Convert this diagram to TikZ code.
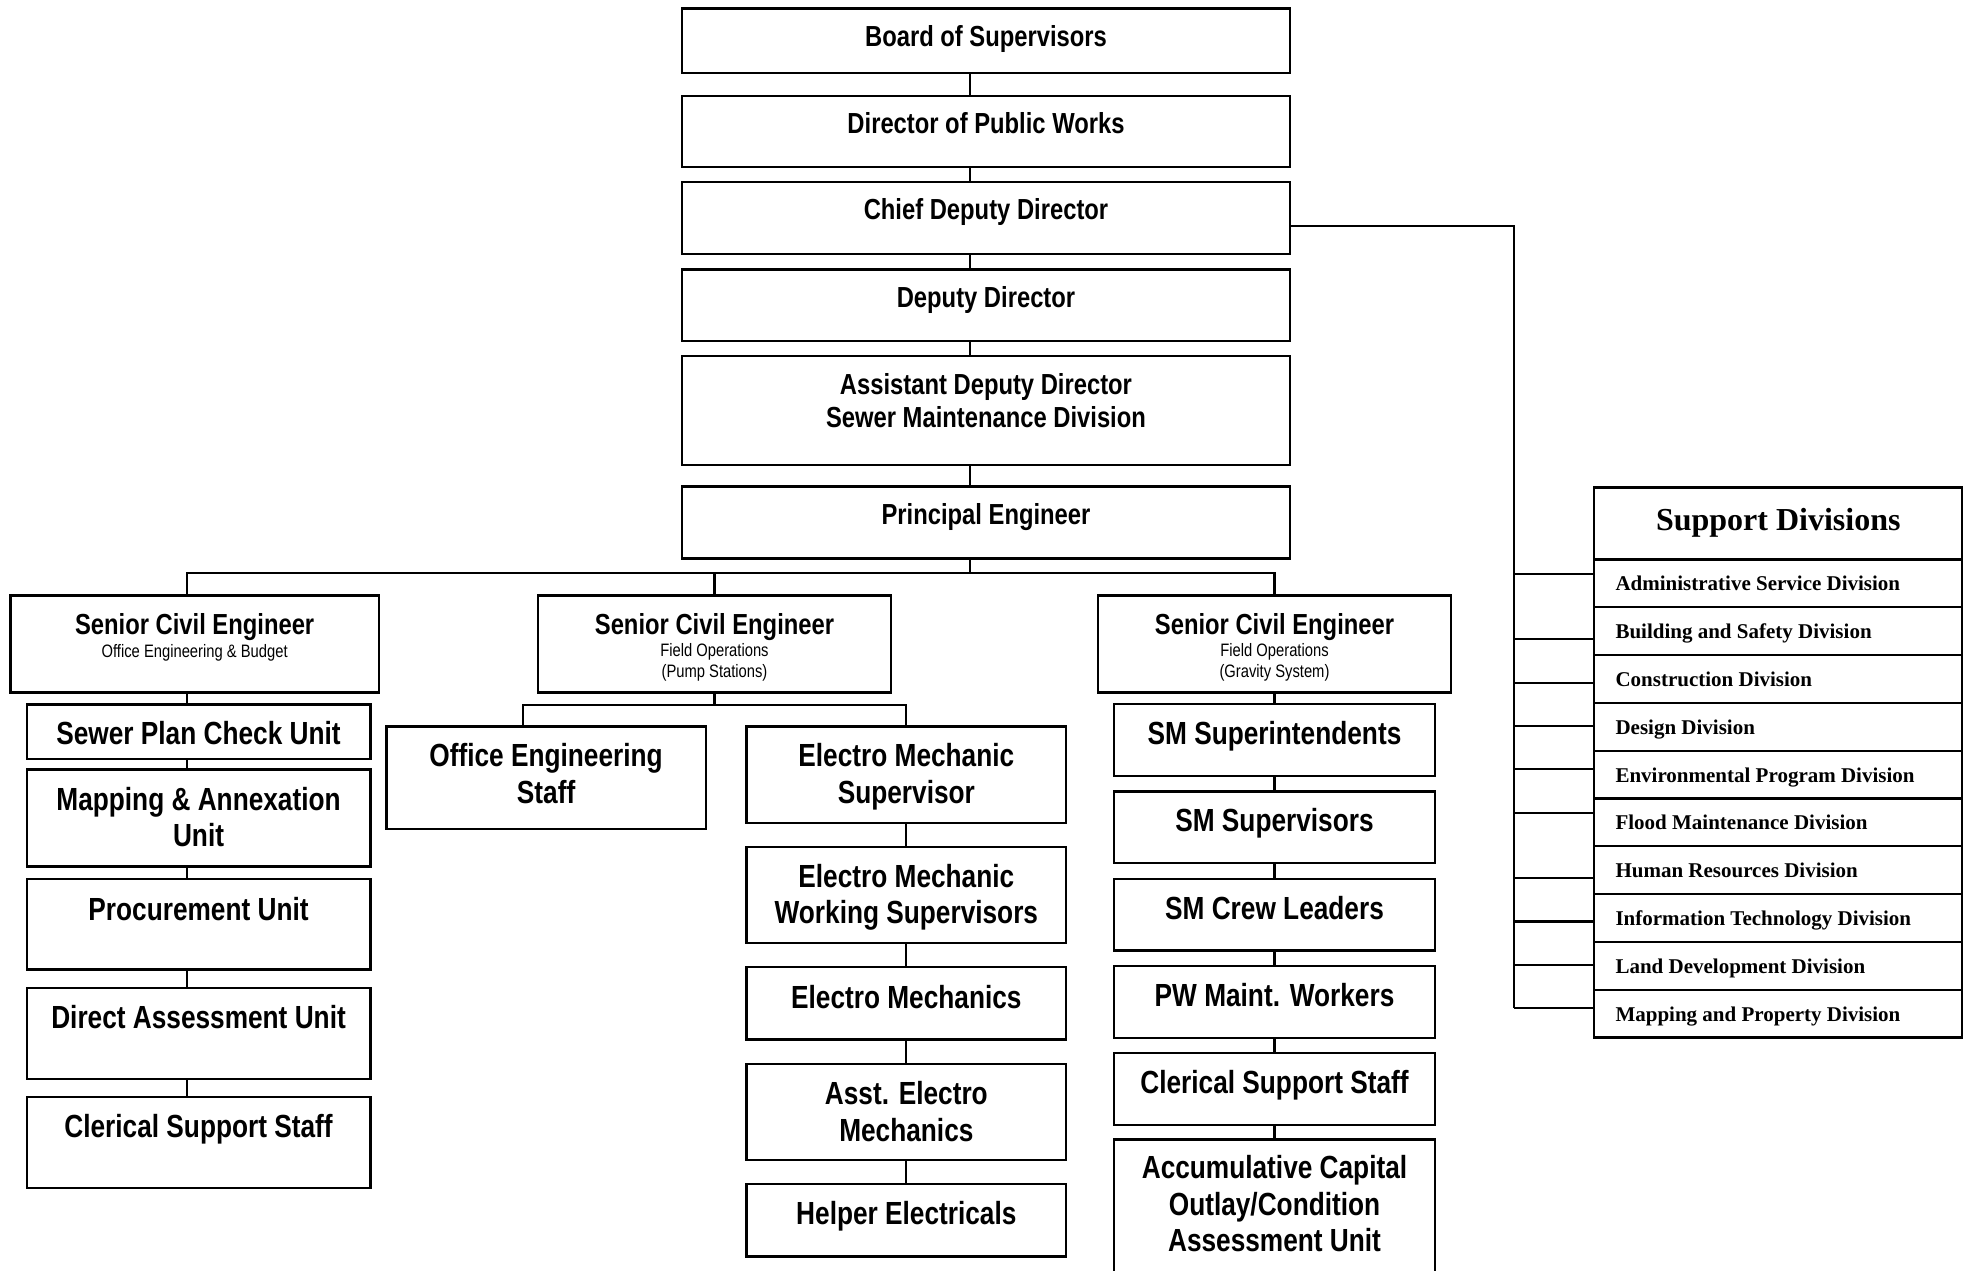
\documentclass[tikz,border=0pt]{standalone}
\usepackage{fontspec}
\setmainfont{Liberation Sans}
\newfontfamily\narrowfont[FakeStretch=0.82]{Liberation Sans}
\newfontfamily\timesfont{Liberation Serif}
\usepackage{tikz}
\usetikzlibrary{calc}

\begin{document}
\begin{tikzpicture}[x=1pt,y=-1pt]
    \tikzstyle{box}=[rectangle, draw, line width=2.2pt, inner sep=0pt]
    \tikzstyle{head}=[font=\narrowfont\bfseries\fontsize{29}{33}\selectfont, inner sep=0pt, anchor=base, align=center]
    \tikzstyle{unit}=[font=\narrowfont\bfseries\fontsize{32}{36.5}\selectfont, inner sep=0pt, anchor=base, align=center]
    \tikzstyle{sub}=[font=\narrowfont\fontsize{18}{21}\selectfont, inner sep=0pt, anchor=base, align=center]
    \tikzstyle{div}=[font=\timesfont\bfseries\fontsize{21}{24}\selectfont, inner sep=0pt, anchor=base west]
    \useasboundingbox (0,0) rectangle (1970,1270);

    % chain at the top
    \node[box, minimum width=608, minimum height=64.5] (bs) at (986,40.75) {};
    \node[box, minimum width=608, minimum height=71] (dp) at (986,131.5) {};
    \node[box, minimum width=608, minimum height=72] (cd) at (986,218) {};
    \node[box, minimum width=608, minimum height=71.5] (dd) at (986,305.25) {};
    \node[box, minimum width=608, minimum height=109] (ad) at (986,410.5) {};
    \node[box, minimum width=608, minimum height=72] (pe) at (986,522.5) {};
    \node[head] (bst) at (986,46) {Board of Supervisors};
    \node[head] (dpt) at (986,133.5) {Director of Public Works};
    \node[head] (cdt) at (986,219.5) {Chief Deputy Director};
    \node[head] (ddt) at (986,307) {Deputy Director};
    \node[head] (adt) at (986,427) {Assistant Deputy Director\\Sewer Maintenance Division};
    \node[head] (pet) at (986,524) {Principal Engineer};

    % senior civil engineers
    \node[box, minimum width=368.3, minimum height=97] (s1) at (194.65,644) {};
    \node[box, minimum width=353, minimum height=97] (s2) at (714.5,644) {};
    \node[box, minimum width=353, minimum height=97] (s3) at (1274.5,644) {};
    \node[head] (s1t) at (194.65,634) {Senior Civil Engineer};
    \node[head] (s2t) at (714.5,634) {Senior Civil Engineer};
    \node[head] (s3t) at (1274.5,634) {Senior Civil Engineer};
    \node[sub] (s1s) at (194.65,657.5) {Office Engineering \& Budget};
    \node[sub] (s2s) at (714.5,677) {Field Operations\\(Pump Stations)};
    \node[sub] (s3s) at (1274.5,677) {Field Operations\\(Gravity System)};

    % office engineering and budget
    \node[box, minimum width=343.7, minimum height=54.5] (c1) at (198.55,731.75) {};
    \node[box, minimum width=343.7, minimum height=96.9] (c2) at (198.55,817.95) {};
    \node[box, minimum width=343.7, minimum height=90.9] (c3) at (198.55,924.05) {};
    \node[box, minimum width=343.7, minimum height=90.9] (c4) at (198.55,1033.15) {};
    \node[box, minimum width=343.7, minimum height=90.9] (c5) at (198.55,1142.25) {};
    \node[unit] (c1t) at (198.55,744) {Sewer Plan Check Unit};
    \node[unit] (c2t) at (198.55,846.5) {Mapping \& Annexation\\Unit};
    \node[unit] (c3t) at (198.55,920) {Procurement Unit};
    \node[unit] (c4t) at (198.55,1028) {Direct Assessment Unit};
    \node[unit] (c5t) at (198.55,1137) {Clerical Support Staff};

    % pump stations
    \node[box, minimum width=319.2, minimum height=102.2] (o1) at (546.1,777.5) {};
    \node[unit] (o1t) at (546.1,803) {Office Engineering\\Staff};
    \node[box, minimum width=319.9, minimum height=96.3] (e1) at (906.35,774.55) {};
    \node[box, minimum width=319.9, minimum height=96.4] (e2) at (906.35,895) {};
    \node[box, minimum width=319.9, minimum height=72.2] (e3) at (906.35,1003.4) {};
    \node[box, minimum width=319.9, minimum height=96.4] (e4) at (906.35,1111.8) {};
    \node[box, minimum width=319.9, minimum height=72.4] (e5) at (906.35,1220.2) {};
    \node[unit] (e1t) at (906.35,803) {Electro Mechanic\\Supervisor};
    \node[unit] (e2t) at (906.35,923.5) {Electro Mechanic\\Working Supervisors};
    \node[unit] (e3t) at (906.35,1008) {Electro Mechanics};
    \node[unit] (e4t) at (906.35,1141) {Asst. Electro\\Mechanics};
    \node[unit] (e5t) at (906.35,1224.5) {Helper Electricals};

    % gravity system
    \node[box, minimum width=321, minimum height=72] (f1) at (1274.5,740) {};
    \node[box, minimum width=321, minimum height=71.5] (f2) at (1274.5,827.25) {};
    \node[box, minimum width=321, minimum height=71.5] (f3) at (1274.5,914.75) {};
    \node[box, minimum width=321, minimum height=72] (f4) at (1274.5,1002) {};
    \node[box, minimum width=321, minimum height=72] (f5) at (1274.5,1089) {};
    \node[box, minimum width=321, minimum height=160.5] (f6) at (1274.5,1219.75) {};
    \node[unit] (f1t) at (1274.5,744) {SM Superintendents};
    \node[unit] (f2t) at (1274.5,831.5) {SM Supervisors};
    \node[unit] (f3t) at (1274.5,919) {SM Crew Leaders};
    \node[unit] (f4t) at (1274.5,1006) {PW Maint. Workers};
    \node[unit] (f5t) at (1274.5,1093) {Clerical Support Staff};
    \node[unit] (f6t) at (1274.5,1251.5) {Accumulative Capital\\Outlay/Condition\\Assessment Unit};

    % support divisions
    \node[box, minimum width=368, minimum height=72] (sd) at (1778.3,523.5) {};
    \node[font=\timesfont\bfseries\fontsize{32}{36}\selectfont, inner sep=0pt, anchor=base] (sdt) at (1778.3,530) {Support Divisions};
    \node[box, minimum width=368, minimum height=47.8] (r1) at (1778.3,583.4) {};
    \node[box, minimum width=368, minimum height=47.8] (r2) at (1778.3,631.2) {};
    \node[box, minimum width=368, minimum height=47.8] (r3) at (1778.3,679) {};
    \node[box, minimum width=368, minimum height=47.8] (r4) at (1778.3,726.8) {};
    \node[box, minimum width=368, minimum height=47.8] (r5) at (1778.3,774.6) {};
    \node[box, minimum width=368, minimum height=47.8] (r6) at (1778.3,822.4) {};
    \node[box, minimum width=368, minimum height=47.8] (r7) at (1778.3,870.2) {};
    \node[box, minimum width=368, minimum height=47.8] (r8) at (1778.3,918) {};
    \node[box, minimum width=368, minimum height=47.8] (r9) at (1778.3,965.8) {};
    \node[box, minimum width=368, minimum height=47.8] (r10) at (1778.3,1013.6) {};
    \node[div] (r1t) at (1615.3,590.9) {Administrative Service Division};
    \node[div] (r2t) at (1615.3,638.7) {Building and Safety Division};
    \node[div] (r3t) at (1615.3,686.5) {Construction Division};
    \node[div] (r4t) at (1615.3,734.3) {Design Division};
    \node[div] (r5t) at (1615.3,782.1) {Environmental Program Division};
    \node[div] (r6t) at (1615.3,829.9) {Flood Maintenance Division};
    \node[div] (r7t) at (1615.3,877.7) {Human Resources Division};
    \node[div] (r8t) at (1615.3,925.5) {Information Technology Division};
    \node[div] (r9t) at (1615.3,973.3) {Land Development Division};
    \node[div] (r10t) at (1615.3,1021.1) {Mapping and Property Division};

    % connectors
    \coordinate (m) at (970,0);
    \coordinate (k1) at (186.6,573);
    \coordinate (k2) at (522.6,705);
    \coordinate (v) at (1514.3,226);
    \coordinate (a1) at ([yshift=9.4pt]r1.west);
    \coordinate (a2) at ([yshift=-7.8pt]r2.west);
    \coordinate (a3) at ([yshift=-3.9pt]r3.west);
    \coordinate (a4) at ([yshift=0.7pt]r4.west);
    \coordinate (a5) at ([yshift=5.3pt]r5.west);
    \coordinate (a6) at ([yshift=9.2pt]r6.west);
    \coordinate (a7) at ([yshift=-8pt]r7.west);
    \coordinate (a8) at ([yshift=-3.4pt]r8.west);
    \coordinate (a9) at ([yshift=1.2pt]r9.west);
    \coordinate (a10) at ([yshift=5.8pt]r10.west);
    \draw[line width=2.2pt] (bs.south -| m) -- (dp.north -| m);
    \draw[line width=2.2pt] (dp.south -| m) -- (cd.north -| m);
    \draw[line width=2.2pt] (cd.south -| m) -- (dd.north -| m);
    \draw[line width=2.2pt] (dd.south -| m) -- (ad.north -| m);
    \draw[line width=2.2pt] (ad.south -| m) -- (pe.north -| m);
    \draw[line width=2.2pt] (pe.south -| m) -- (m |- k1);
    \draw[line width=2.2pt] (s1.north -| k1) -- (k1) -- (k1 -| s3.north) -- (s3.north);
    \draw[line width=2.2pt] (s2.north |- k1) -- (s2.north);
    \draw[line width=2.2pt] (s1.south -| k1) -- (c1.north -| k1);
    \draw[line width=2.2pt] (c1.south -| k1) -- (c2.north -| k1);
    \draw[line width=2.2pt] (c2.south -| k1) -- (c3.north -| k1);
    \draw[line width=2.2pt] (c3.south -| k1) -- (c4.north -| k1);
    \draw[line width=2.2pt] (c4.south -| k1) -- (c5.north -| k1);
    \draw[line width=2.2pt] (s2.south) -- (s2.south |- k2);
    \draw[line width=2.2pt] (o1.north -| k2) -- (k2) -- (k2 -| e1.north) -- (e1.north);
    \draw[line width=2.2pt] (e1) -- (e2);
    \draw[line width=2.2pt] (e2) -- (e3);
    \draw[line width=2.2pt] (e3) -- (e4);
    \draw[line width=2.2pt] (e4) -- (e5);
    \draw[line width=2.2pt] (s3) -- (f1);
    \draw[line width=2.2pt] (f1) -- (f2);
    \draw[line width=2.2pt] (f2) -- (f3);
    \draw[line width=2.2pt] (f3) -- (f4);
    \draw[line width=2.2pt] (f4) -- (f5);
    \draw[line width=2.2pt] (f5) -- (f6);
    \draw[line width=2.2pt] (cd.east |- v) -- (v) -- (v |- a10);
    \draw[line width=2.2pt] (a1 -| v) -- (a1);
    \draw[line width=2.2pt] (a2 -| v) -- (a2);
    \draw[line width=2.2pt] (a3 -| v) -- (a3);
    \draw[line width=2.2pt] (a4 -| v) -- (a4);
    \draw[line width=2.2pt] (a5 -| v) -- (a5);
    \draw[line width=2.2pt] (a6 -| v) -- (a6);
    \draw[line width=2.2pt] (a7 -| v) -- (a7);
    \draw[line width=2.2pt] (a8 -| v) -- (a8);
    \draw[line width=2.2pt] (a9 -| v) -- (a9);
    \draw[line width=2.2pt] (a10 -| v) -- (a10);

\end{tikzpicture}
\end{document}
